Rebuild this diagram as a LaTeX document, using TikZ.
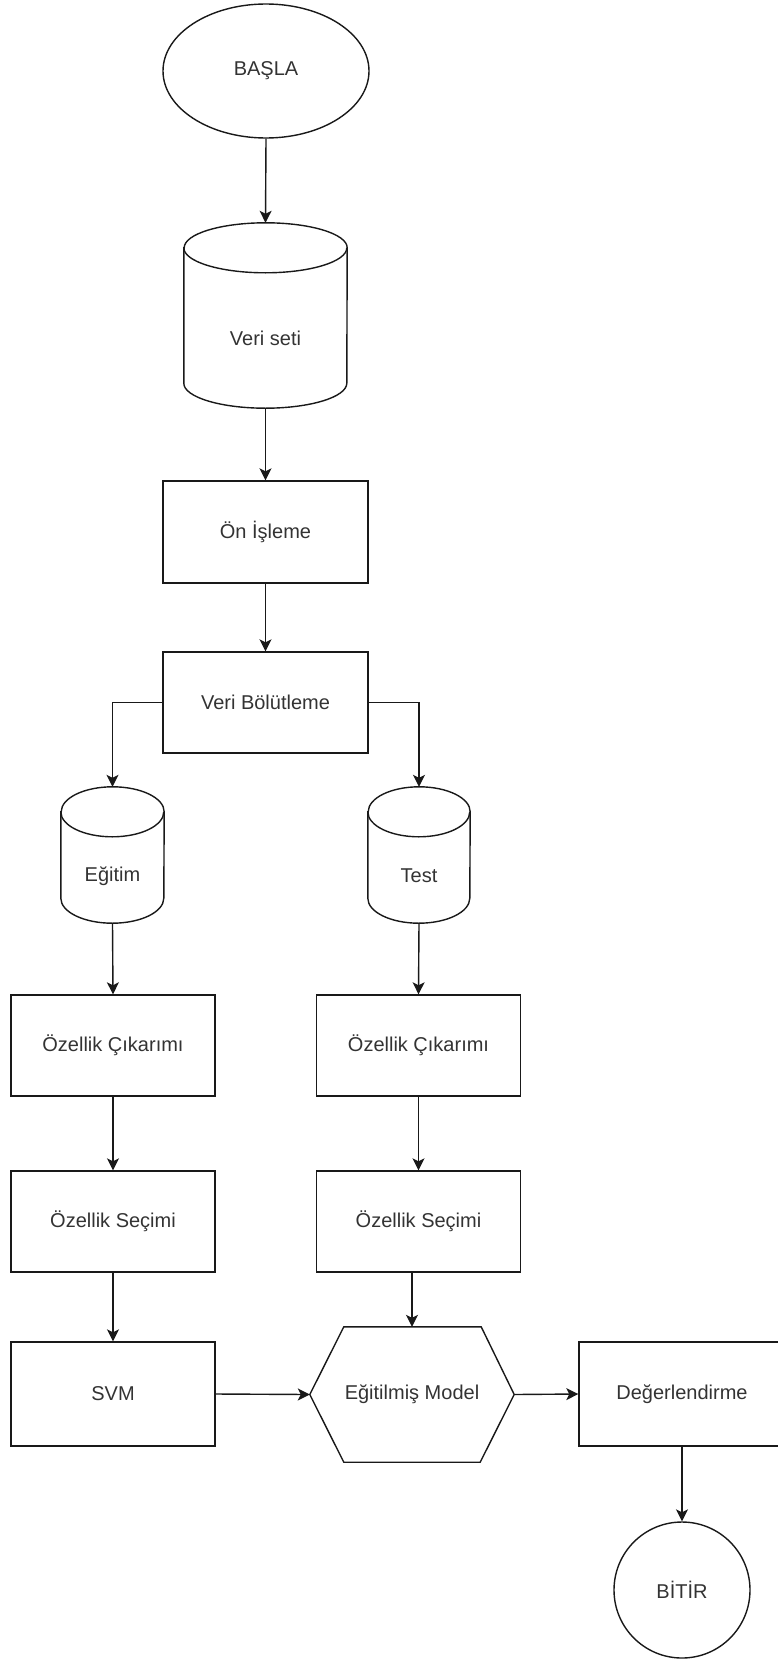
\documentclass[tikz,border=0pt]{standalone}
\usepackage{fontspec}
\setmainfont{Liberation Sans}
\usetikzlibrary{shapes.geometric,arrows.meta,calc}
\tikzset{
  ln/.style={draw=black!90, line width=1.4pt},
  arr/.style={ln, -{Stealth[length=12pt,width=12pt,inset=3pt]}},
  txt/.style={text=black!80, font=\fontsize{20}{24}\selectfont, inner sep=0pt},
  box/.style={ln, rectangle, txt, minimum width=204pt, minimum height=102pt},
  frame/.style={rectangle, inner sep=0pt},
}
\begin{document}
\begin{tikzpicture}[x=1pt,y=1pt]
\useasboundingbox (0,0) rectangle (777,-1659);

% start
\node[ln, ellipse, txt, minimum width=206pt, minimum height=134pt] (basla) at (266,-71) {BAŞLA};

% Veri seti cylinder
\node[frame, minimum width=163pt, minimum height=185pt] (vs) at (265.5,-315.5) {};
\draw[ln] ($(vs.north west)+(0,-25)$) -- ($(vs.south west)+(0,25)$)
  arc[start angle=180,end angle=360,x radius=81.5,y radius=25]
  -- ($(vs.north east)+(0,-25)$)
  arc[start angle=0,end angle=180,x radius=81.5,y radius=25] -- cycle;
\draw[ln] ($(vs.north west)+(0,-25)$) arc[start angle=180,end angle=360,x radius=81.5,y radius=25];
\node[txt] (vslbl) at (265.5,-338) {Veri seti};

\node[box, minimum width=205pt] (on) at (265.5,-532) {Ön İşleme};
\node[box, minimum width=205pt, minimum height=101pt] (vb) at (265.5,-702.5) {Veri Bölütleme};

% Egitim cylinder
\node[frame, minimum width=103pt, minimum height=136pt] (eg) at (112.5,-855) {};
\draw[ln] ($(eg.north west)+(0,-25)$) -- ($(eg.south west)+(0,25)$)
  arc[start angle=180,end angle=360,x radius=51.5,y radius=25]
  -- ($(eg.north east)+(0,-25)$)
  arc[start angle=0,end angle=180,x radius=51.5,y radius=25] -- cycle;
\draw[ln] ($(eg.north west)+(0,-25)$) arc[start angle=180,end angle=360,x radius=51.5,y radius=25];
\node[txt] (eglbl) at (112.5,-876) {Eğitim};

% Test cylinder
\node[frame, minimum width=102pt, minimum height=136pt] (te) at (419,-855) {};
\draw[ln] ($(te.north west)+(0,-25)$) -- ($(te.south west)+(0,25)$)
  arc[start angle=180,end angle=360,x radius=51,y radius=25]
  -- ($(te.north east)+(0,-25)$)
  arc[start angle=0,end angle=180,x radius=51,y radius=25] -- cycle;
\draw[ln] ($(te.north west)+(0,-25)$) arc[start angle=180,end angle=360,x radius=51,y radius=25];
\node[txt] (telbl) at (419,-876) {Test};

\node[box, minimum height=101pt] (ocl) at (113,-1045.5) {Özellik Çıkarımı};
\node[box, minimum height=101pt] (ocr) at (418.5,-1045.5) {Özellik Çıkarımı};
\node[box, minimum height=101pt] (osl) at (113,-1221.5) {Özellik Seçimi};
\node[box, minimum height=101pt] (osr) at (418.5,-1221.5) {Özellik Seçimi};
\node[box, minimum height=104pt] (svm) at (113,-1394) {SVM};

% hexagon
\node[frame, minimum width=204pt, minimum height=135pt] (hx) at (412,-1394.5) {};
\draw[ln] (hx.west) -- ($(hx.north west)+(34,0)$) -- ($(hx.north east)+(-33,0)$)
  -- (hx.east) -- ($(hx.south east)+(-34,0)$) -- ($(hx.south west)+(34,0)$) -- cycle;
\node[txt] (hxlbl) at (412,-1394) {Eğitilmiş Model};

\node[box, minimum width=206pt, minimum height=104pt] (de) at (682,-1394) {Değerlendirme};
\node[ln, circle, txt, minimum size=136pt] (bitir) at (682,-1590) {BİTİR};

% connectors
\draw[arr] (basla.south) -- (vs.north);
\draw[arr] (vs.south) -- (on.north);
\draw[arr] (on.south) -- (vb.north);
\draw[arr] (vb.west) -| (eg.north);
\draw[arr] (vb.east) -| (te.north);
\draw[arr] (eg.south) -- (ocl.north);
\draw[arr] (te.south) -- (ocr.north);
\draw[arr] (ocl.south) -- (osl.north);
\draw[arr] (ocr.south) -- (osr.north);
\draw[arr] (osl.south) -- (svm.north);
\draw[arr] (osr.south -| hx.north) -- (hx.north);
\draw[arr] (svm.east) -- (hx.west);
\draw[arr] (hx.east) -- (de.west);
\draw[arr] (de.south) -- (bitir.north);
\end{tikzpicture}
\end{document}
